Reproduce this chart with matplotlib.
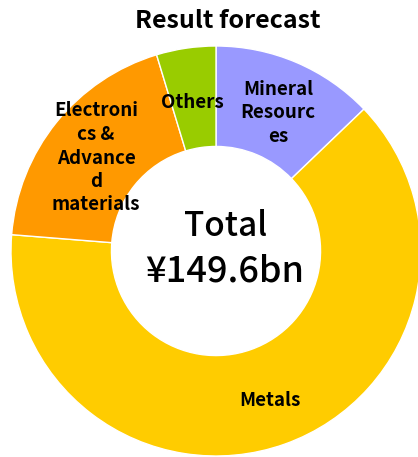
import matplotlib.pyplot as plt

plt.rcParams['font.family'] = ['Noto Sans CJK JP', 'DejaVu Sans']

# Segment shares of the result forecast (¥bn), clockwise from 12 o'clock
segments = ["Mineral\nResourc\nes", "Metals", "Electroni\ncs &\nAdvance\nd\nmaterials", "Others"]
values = [19.2, 94.9, 28.5, 7.0]
colors = ["#9999FF", "#FFCC00", "#FF9900", "#99CC00"]
total_caption = "Total"
total_amount = "¥149.6bn"

# label anchor points in figure pixels (x from left, y from top)
label_pos = [(278, 113), (270, 401), (96, 158), (192, 102)]

W, H = 418, 457
fig = plt.figure(figsize=(W / 100, H / 100), dpi=100)
ax = fig.add_axes([0, 0, 1, 1])

cx, cy, r = 216, H - 251, 205
ax.pie(values, colors=colors, startangle=90, counterclock=False,
       center=(cx, cy), radius=r, frame=True,
       wedgeprops=dict(width=r * 0.49, edgecolor="white", linewidth=1.0))
ax.set_xlim(0, W)
ax.set_ylim(0, H)
ax.set_aspect("equal")
ax.axis("off")

for text, (x, y) in zip(segments, label_pos):
    ax.text(x, H - y, text, ha="center", va="center", fontsize=13.5,
            fontweight="bold", linespacing=1.3)

ax.text(226, H - 227, total_caption, ha="center", va="center",
        fontsize=24, fontweight="medium")
ax.text(225, H - 271, total_amount, ha="center", va="center",
        fontsize=26, fontweight="medium")
ax.text(228, H - 21, "Result forecast", ha="center", va="center",
        fontsize=18, fontweight="bold")

fig.savefig("out.png", dpi=100)
